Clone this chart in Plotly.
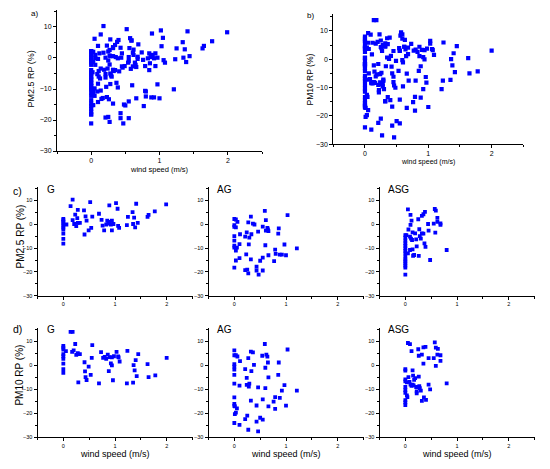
import plotly.graph_objects as go

# ---------------- data (wind speed m/s, RP %) ----------------
pm25_G_x = [0, 0, 0, 0, 0, 0, 0, 0, 0, 0, 0.06, 0.14, 0.18, 0.18, 0.21, 0.23, 0.25, 0.27, 0.28, 0.28,
            0.32, 0.40, 0.41, 0.43, 0.45, 0.49, 0.52, 0.54, 0.56, 0.69, 0.74, 0.76, 0.79, 0.83, 0.85,
            0.87, 0.89, 0.90, 0.92, 0.94, 0.94, 0.97, 1.02, 1.05, 1.06, 1.08, 1.23, 1.25, 1.34, 1.35,
            1.37, 1.39, 1.41, 1.44, 1.63, 1.65, 1.77, 1.99]
pm25_G_y = [-8.1, -6.1, -3.9, -2.2, -1.4, -0.6, 0.3, 1.0, 1.7, 2.2, -0.1, 7.6, 10.3, 1.7, 0.1, 4.0, -0.8, 2.6, 6.0, 0.6,
            0.6, 5.8, -4.3, 3.3, 1.5, -2.6, 9.3, -1.5, 3.2, 4.4, 1.8, -0.6, -2.6, -0.1, 1.5,
            0.3, 7.9, 1.0, -0.1, -2.6, 1.5, 0.1, 8.9, 6.5, -0.7, -1.5, -0.4, 3.1, 5.1, 0.1,
            2.8, -1.3, 8.6, 0.6, 3.1, 3.9, 5.4, 8.3]

pm25_AG_x = [0, 0.03, 0, 0, 0.03, 0.06, 0, 0, 0, 0, 0.03, 0.05, 0.10, 0.11, 0.03, 0, 0.10, 0.21, 0.24, 0.27,
             0.29, 0.28, 0.23, 0.21, 0.25, 0.27, 0.32, 0.33, 0.32, 0.36, 0.39, 0.43, 0.43, 0.46, 0.47,
             0.50, 0.55, 0.55, 0.55, 0.59, 0.60, 0.61, 0.61, 0.64, 0.65, 0.66, 0.66, 0.77, 0.79, 0.80,
             0.85, 0.86, 0.88, 0.92, 0.97, 1.00, 1.03, 1.21]
pm25_AG_y = [2.2, 2.0, -1.1, -0.4, -1.3, 1.0, -5.0, -6.9, -9.0, -9.8, -11.0, -9.8, -8.3, -4.2, -15.2, -18.2, -14.2, -5.2, -3.4, 0.8,
             -5.6, -8.4, -12.6, -19.2, -19.0, -20.6, -14.7, -4.2, 3.2, 0.3, -0.1, -17.8, -19.4, -3.1, -21.1,
             -15.3, -1.0, -14.0, -19.4, 5.6, -8.8, 1.7, -2.7, -1.5, -2.2, -2.9, -13.0, -15.5, -10.6, -12.4,
             -3.9, -1.7, -12.7, -12.7, -8.5, -13.0, 3.8, -10.1]

pm25_ASG_x = [0.05, 0.10, 0.12, 0.10, 0.06, 0, 0.02, 0, 0, 0, 0, 0, 0, 0, 0, 0, 0, 0, 0, 0, 0,
              0.05, 0.09, 0.14, 0.15, 0.17, 0.09, 0.11, 0.13, 0.14, 0.19, 0.21, 0.22, 0.25, 0.27, 0.26,
              0.28, 0.30, 0.32, 0.32, 0.35, 0.35, 0.37, 0.38, 0.39, 0.44, 0.45, 0.48, 0.55, 0.57, 0.59,
              0.58, 0.62, 0.62, 0.68, 0.68, 0.80]
pm25_ASG_y = [6.2, 3.9, 1.5, -0.3, -2.2, -4.6, -4.6, -5.6, -6.9, -8.0, -9.1, -10.1, -11.2, -12.2, -13.6, -14.7, -15.5, -16.4, -17.3, -18.2, -21.1,
              -12.2, -10.8, -10.5, -13.2, -12.9, -5.2, -6.0, -6.6, -3.4, -3.8, -6.3, -9.3, 2.1, -2.1, -13.3,
              -5.0, -6.0, -3.8, 3.5, 4.2, -3.9, -8.0, 5.2, -9.5, 0.1, -2.7, -15.0, 0.3, 6.4, 5.7,
              -3.5, 2.7, 1.0, 0.4, -0.3, -10.8]

pm10_G_x = [0, 0, 0, 0, 0, 0, 0, 0, 0, 0.05, 0.14, 0.18, 0.17, 0.20, 0.23, 0.25, 0.28, 0.32, 0.29,
            0.41, 0.42, 0.43, 0.45, 0.49, 0.53, 0.55, 0.56, 0.73, 0.69, 0.77, 0.80, 0.83, 0.86, 0.88,
            0.90, 0.92, 0.94, 0.94, 0.96, 0.98, 1.03, 1.06, 1.07, 1.09, 1.24, 1.23, 1.35, 1.36, 1.38,
            1.40, 1.42, 1.45, 1.63, 1.65, 1.78, 2.00]
pm10_G_y = [8.0, 7.3, 6.5, 4.6, 3.7, 2.6, 0.6, -1.7, -3.2, 5.8, 13.8, 13.8, 5.5, 6.1, 8.8, 4.3, 5.0, 4.6, -7.2,
            1.2, -2.6, -5.0, -6.2, -0.6, -4.1, 3.0, 8.3, 5.4, -7.6, 3.0, 3.4, 2.6, 4.4, -2.5,
            3.3, 0.7, 3.2, -0.1, -6.3, 3.7, 5.5, 3.6, 3.2, 1.5, 5.9, -7.6, -7.3, 0.0, -2.2,
            2.1, -4.6, 4.6, 0.4, -5.0, -4.3, 3.0]

pm10_AG_x = [0, 0, 0.03, 0.06, 0, 0, 0, 0, 0, 0, 0, 0, 0.01, 0.05, 0.03, 0.01, 0, 0.10, 0.11, 0.10,
             0.21, 0.24, 0.24, 0.25, 0.21, 0.27, 0.28, 0.29, 0.27, 0.32, 0.36, 0.33, 0.32, 0.38, 0.43,
             0.43, 0.46, 0.46, 0.50, 0.54, 0.55, 0.55, 0.59, 0.60, 0.60, 0.62, 0.64, 0.65, 0.66, 0.66,
             0.76, 0.79, 0.79, 0.85, 0.86, 0.88, 0.92, 0.97, 1.00, 1.03, 1.21]
pm10_AG_y = [6.1, 4.1, 4.1, 3.6, 0.4, -0.6, -1.9, -4.1, -7.7, -13.4, -16.1, -17.0, -17.2, -18.0, -19.8, -20.4, -24.1, -24.9, 1.7, -8.5,
             -1.7, -5.3, -8.2, -21.0, -22.5, 2.9, -8.9, -7.7, -26.9, 5.6, 5.3, -2.5, -14.8, 0.1, -16.8,
             -23.5, -9.3, -27.6, -21.9, 3.9, -14.3, -22.7, 8.8, -1.1, -9.6, 4.4, 3.5, 1.1, -5.1, -17.2,
             -15.2, -13.3, -18.2, -4.1, 1.1, -13.6, -10.6, -8.3, -16.9, 6.5, -10.6]

pm10_ASG_x = [0.05, 0.09, 0.12, 0, 0, 0.14, 0, 0, 0.03, 0.06, 0.08, 0.10, 0.12, 0.14, 0.16, 0.15, 0.17, 0.19,
              0, 0, 0, 0.03, 0.04, 0, 0, 0, 0.21, 0.22, 0.22, 0.26, 0.27, 0.28, 0.30, 0.25, 0.26,
              0.32, 0.35, 0.39, 0.35, 0.32, 0.36, 0.40, 0.45, 0.45, 0.48, 0.55, 0.57, 0.59, 0.63, 0.62,
              0.59, 0.68, 0.68, 0.80]
pm10_ASG_y = [9.2, 8.7, 5.8, -1.7, -2.3, -2.2, -5.9, -6.8, -7.2, -5.0, -7.0, -8.1, -8.6, -8.1, -8.4, -4.4, -6.1, -5.4,
              -9.1, -10.4, -11.5, -12.6, -13.3, -14.6, -15.5, -16.6, -9.1, -10.9, -11.7, -4.8, -8.8, -9.6, -10.6, 6.6, 3.9,
              4.4, 7.4, 7.6, 0.6, -14.9, -13.4, -14.5, 2.9, -8.1, -10.1, 2.9, 9.5, 7.3, 6.8, 4.4,
              -0.3, 4.1, 1.8, -7.6]

x_ticks = [0, 1, 2]
y_ticks = [-30, -20, -10, 0, 10]
x_title = "wind speed (m/s)"
panel_tags = ["a)", "b)", "c)", "d)"]
group_names = ["G", "AG", "ASG"]
y_titles = ["PM2.5 RP (%)", "PM10 RP (%)"]

# ---------------- layout helpers ----------------
W, H = 550, 469
BLUE = "#0000ff"
FONT = "Arial, Liberation Sans, sans-serif"

def px_dom_x(a, b):
    return [a / W, b / W]

def px_dom_y(top, bottom):
    return [1 - bottom / H, 1 - top / H]

# panels: (x series, y series, xdom px, ydom px, yrange top, tickfont size, marker size)
panels = [
    (pm25_G_x + pm25_AG_x + pm25_ASG_x, pm25_G_y + pm25_AG_y + pm25_ASG_y, (57, 262), (10, 152), 15.5, 7, 4.2),
    (pm10_G_x + pm10_AG_x + pm10_ASG_x, pm10_G_y + pm10_AG_y + pm10_ASG_y, (333.3, 523.3), (14, 145), 16.0, 7, 4.2),
    (pm25_G_x, pm25_G_y, (37.5, 192.5), (188.5, 297.7), 15.5, 5.5, 3.8),
    (pm25_AG_x, pm25_AG_y, (208.5, 363.5), (188.5, 297.7), 15.5, 5.5, 3.8),
    (pm25_ASG_x, pm25_ASG_y, (379.5, 534.5), (188.5, 297.7), 15.5, 5.5, 3.8),
    (pm10_G_x, pm10_G_y, (37.5, 192.5), (330, 440), 15.5, 5.5, 3.8),
    (pm10_AG_x, pm10_AG_y, (208.5, 363.5), (330, 440), 15.5, 5.5, 3.8),
    (pm10_ASG_x, pm10_ASG_y, (379.5, 534.5), (330, 440), 15.5, 5.5, 3.8),
]

fig = go.Figure()
layout = dict(
    width=W, height=H,
    margin=dict(l=0, r=0, t=0, b=0),
    paper_bgcolor="white", plot_bgcolor="white",
    showlegend=False,
    font=dict(family=FONT, color="black"),
)

for i, (xs, ys, xd, yd, ytop, tfs, ms) in enumerate(panels):
    n = "" if i == 0 else str(i + 1)
    fig.add_trace(go.Scatter(
        x=xs, y=ys, mode="markers",
        marker=dict(symbol="square", size=ms, color=BLUE, line=dict(width=0)),
        xaxis="x" + n, yaxis="y" + n, hoverinfo="x+y",
    ))
    layout["xaxis" + n] = dict(
        domain=px_dom_x(*xd), anchor="y" + n, range=[-0.5, 2.5],
        tickvals=x_ticks, ticks="outside", ticklen=3, tickwidth=1, tickcolor="black",
        minor=dict(tickvals=[-0.5, 0.5, 1.5, 2.5], ticks="outside", ticklen=2, tickcolor="black"),
        showline=True, linecolor="black", linewidth=1,
        showgrid=False, zeroline=False, tickfont=dict(size=tfs, family=FONT, color="black"),
    )
    layout["yaxis" + n] = dict(
        domain=px_dom_y(*yd), anchor="x" + n, range=[-30, ytop],
        tickvals=y_ticks, ticks="outside", ticklen=3, tickwidth=1, tickcolor="black",
        minor=dict(tickvals=[-25, -15, -5, 5, 15], ticks="outside", ticklen=2, tickcolor="black"),
        showline=True, linecolor="black", linewidth=1,
        showgrid=False, zeroline=False, tickfont=dict(size=tfs, family=FONT, color="black"),
    )

fig.update_layout(**layout)

def ann(text, x, y, size, xanchor="center", yanchor="middle", angle=0):
    fig.add_annotation(text=text, x=x / W, y=1 - y / H, xref="paper", yref="paper",
                       showarrow=False, xanchor=xanchor, yanchor=yanchor, textangle=angle,
                       font=dict(size=size, family=FONT, color="black"))

# panel tags
ann(panel_tags[0], 29, 14, 8, xanchor="left")
ann(panel_tags[1], 305, 16, 8, xanchor="left")
ann(panel_tags[2], 11, 192, 10.5, xanchor="left")
ann(panel_tags[3], 11, 331, 10.5, xanchor="left")
# group names
for row_y in (191, 332):
    ann(group_names[0], 45, row_y, 10, xanchor="left")
    ann(group_names[1], 214.5, row_y, 10, xanchor="left")
    ann(group_names[2], 386, row_y, 10, xanchor="left")

# axis titles
ann(y_titles[0], 31, 80, 9, angle=-90)
ann(y_titles[1], 310, 80, 8.5, angle=-90)
ann(y_titles[0], 20, 238, 10, angle=-90)
ann(y_titles[1], 20, 378, 10, angle=-90)
ann(x_title, 159, 171, 7.5)
ann(x_title, 428, 163.5, 7)
for cx in (114.7, 286, 457):
    ann(x_title, cx, 456.5, 9)

fig.write_html("out.html", config={"displayModeBar": False},
               post_script="document.body.style.margin='0';document.body.style.overflow='hidden';")
